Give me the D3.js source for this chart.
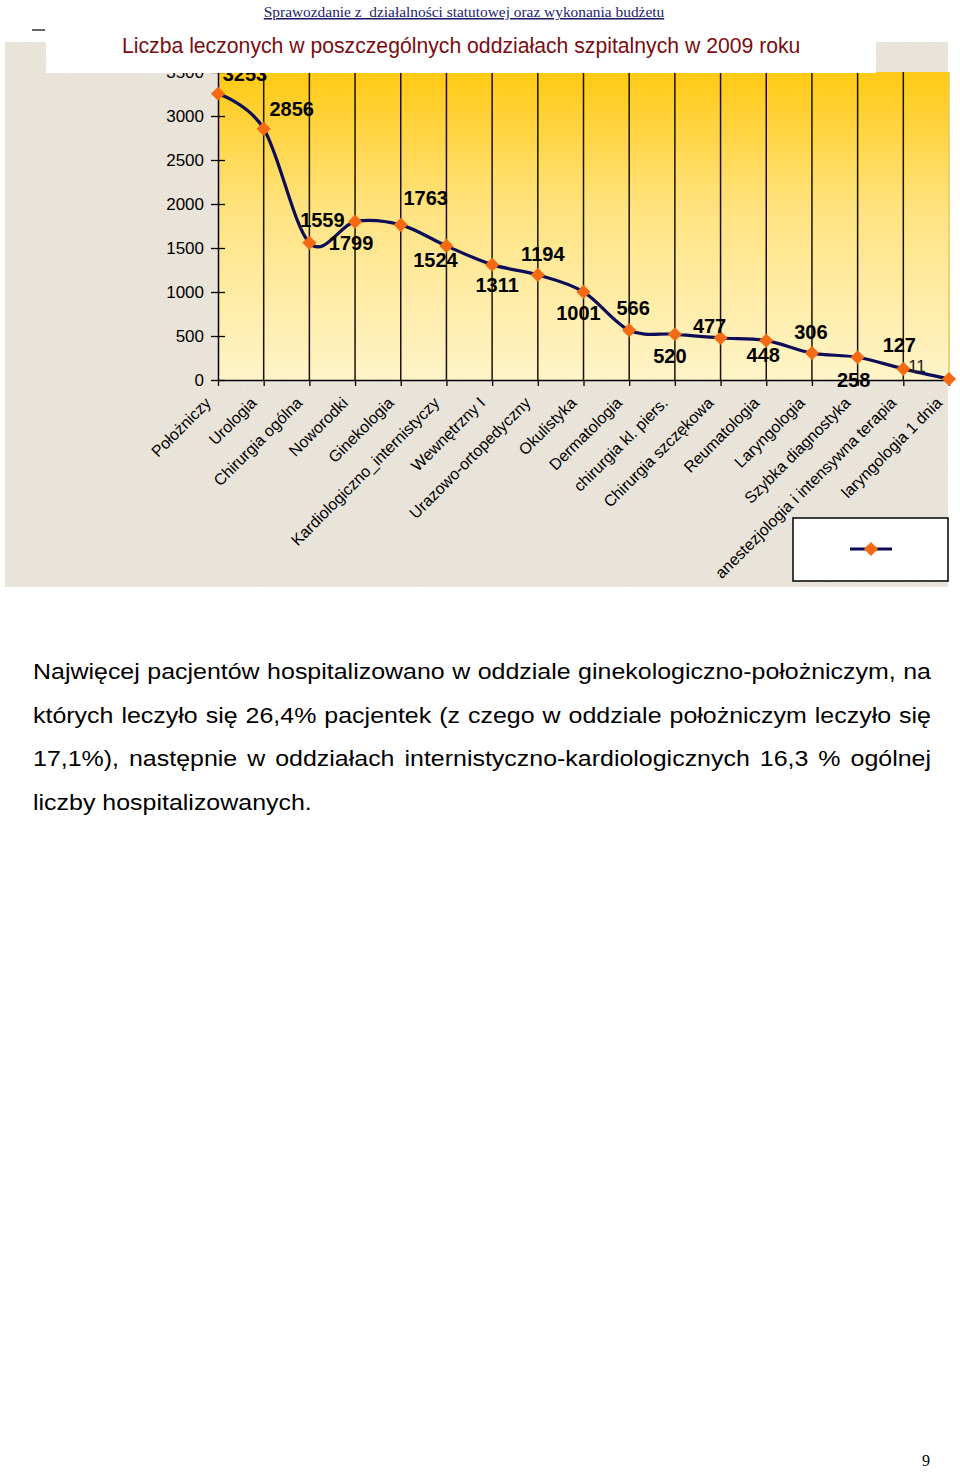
<!DOCTYPE html>
<html>
<head>
<meta charset="utf-8">
<script src="https://cdn.jsdelivr.net/npm/d3@7"></script>
<style>
  html, body { margin: 0; padding: 0; background: #fff; }
  svg { display: block; }
</style>
</head>
<body>
<div id="page"></div>
<script>

/* chart data */
var categories = ["Położniczy", "Urologia", "Chirurgia ogólna", "Noworodki", "Ginekologia",
    "Kardiologiczno_internistyczy", "Wewnętrzny I", "Urazowo-ortopedyczny", "Okulistyka",
    "Dermatologia", "chirurgia kl. piers.", "Chirurgia szczękowa", "Reumatologia",
    "Laryngologia", "Szybka diagnostyka", "anestezjologia i intensywna terapia", "laryngologia 1 dnia"];
var patients = [3253, 2856, 1559, 1799, 1763, 1524, 1311, 1194, 1001, 566, 520, 477, 448, 306, 258, 127, 11];
var yTicks = [0, 500, 1000, 1500, 2000, 2500, 3000, 3500];

/* where each value label sits relative to its marker (as in the original) */
var labelOffsets = [[27,-20],[28,-20],[13,-23],[-4,21],[25,-27],[-11,14],[5,20],[5,-21],[-5,21],
    [4,-22],[-5,22],[-11,-12],[-3,14],[-1,-21],[-4,23],[-4,-24],[-32,-13]];

var headerText = "Sprawozdanie z  działalności statutowej oraz wykonania budżetu";
var titleText = "Liczba leczonych w poszczególnych oddziałach szpitalnych w 2009 roku";
var paragraph = [
    "Najwięcej pacjentów hospitalizowano w oddziale ginekologiczno-położniczym, na",
    "których leczyło się 26,4% pacjentek (z czego w oddziale położniczym leczyło się",
    "17,1%), następnie w oddziałach internistyczno-kardiologicznych 16,3 % ogólnej",
    "liczby hospitalizowanych."
];

var W = 960, H = 1472;
var sans = "'Liberation Sans', Arial, sans-serif";
var serif = "'Liberation Serif', 'Times New Roman', serif";

var svg = d3.select("#page").append("svg")
    .attr("width", W)
    .attr("height", H);

var defs = svg.append("defs");

// stone-like background texture
var f = defs.append("filter").attr("id", "stone")
    .attr("x", 0).attr("y", 0).attr("width", 1).attr("height", 1);
f.append("feTurbulence").attr("type", "fractalNoise")
    .attr("baseFrequency", 0.7).attr("numOctaves", 3).attr("seed", 7);
f.append("feColorMatrix").attr("type", "matrix")
    .attr("values", "0.33 0.33 0.33 0 0  0.33 0.33 0.33 0 0  0.33 0.33 0.33 0 0  0 0 0 0 0.13");

var grad = defs.append("linearGradient").attr("id", "plotbg")
    .attr("x1", 0).attr("y1", 0).attr("x2", 0).attr("y2", 1);
grad.append("stop").attr("offset", "0%").attr("stop-color", "#ffc914");
grad.append("stop").attr("offset", "45%").attr("stop-color", "#ffe381");
grad.append("stop").attr("offset", "100%").attr("stop-color", "#fff4c9");

svg.append("rect").attr("x", 5).attr("y", 42).attr("width", 943).attr("height", 545)
    .attr("fill", "#f0eadf");
svg.append("rect").attr("x", 5).attr("y", 42).attr("width", 943).attr("height", 545)
    .attr("fill", "#fff").attr("filter", "url(#stone)");

/* scales */
var x = d3.scalePoint().domain(categories).range([218, 949]);
var y = d3.scaleLinear().domain([0, 3500]).range([380, 72]);

// plot area
svg.append("rect")
    .attr("x", x.range()[0]).attr("y", y(3500))
    .attr("width", x.range()[1] - x.range()[0]).attr("height", y(0) - y(3500))
    .attr("fill", "url(#plotbg)");
svg.append("line")
    .attr("x1", x.range()[1]).attr("x2", x.range()[1])
    .attr("y1", y(3500)).attr("y2", y(0))
    .attr("stroke", "#e8c45a").attr("stroke-width", 1.5);

// vertical grid lines at every category
svg.append("g").selectAll("line")
    .data(categories.slice(1, -1))
    .enter().append("line")
    .attr("x1", function(d) { return x(d); })
    .attr("x2", function(d) { return x(d); })
    .attr("y1", y(3500)).attr("y2", y(0))
    .attr("stroke", "#1a1208").attr("stroke-width", 1.5);

// y axis
var yAxis = svg.append("g").attr("transform", "translate(" + x.range()[0] + ",0)")
    .call(d3.axisLeft(y).tickValues(yTicks).tickFormat(d3.format("d"))
        .tickSizeInner(7).tickSizeOuter(0).tickPadding(7));
yAxis.select(".domain").attr("stroke", "#000").attr("stroke-width", 1.5);
yAxis.selectAll(".tick line").attr("x2", 7).attr("x1", -7).attr("stroke", "#000").attr("stroke-width", 1.3);
yAxis.selectAll(".tick text").attr("font-family", sans).attr("font-size", 17).attr("fill", "#000");

// x axis
var xAxis = svg.append("g").attr("transform", "translate(0," + y(0) + ")")
    .call(d3.axisBottom(x).tickSizeInner(6).tickSizeOuter(0).tickFormat(""));
xAxis.select(".domain").attr("stroke", "#000").attr("stroke-width", 1.5);
xAxis.selectAll(".tick line").attr("stroke", "#000").attr("stroke-width", 1.3);

svg.append("g").selectAll("text")
    .data(categories)
    .enter().append("text")
    .attr("transform", function(d) { return "translate(" + (x(d) - 10) + "," + (y(0) + 20) + ") rotate(-45)"; })
    .attr("text-anchor", "end")
    .attr("dy", "0.35em")
    .attr("font-family", sans)
    .attr("font-size", 16)
    .attr("fill", "#000")
    .text(function(d) { return d; });

/* the series */
var line = d3.line()
    .x(function(d, i) { return x(categories[i]); })
    .y(function(d) { return y(d); })
    .curve(d3.curveCardinal.tension(0));

svg.append("path")
    .datum(patients)
    .attr("d", line)
    .attr("fill", "none")
    .attr("stroke", "#0c0c58")
    .attr("stroke-width", 3.2);

var diamond = d3.symbol().type(d3.symbolSquare).size(100);
svg.append("g").selectAll("path")
    .data(patients)
    .enter().append("path")
    .attr("d", diamond)
    .attr("transform", function(d, i) { return "translate(" + x(categories[i]) + "," + y(d) + ") rotate(45)"; })
    .attr("fill", "#f46a12");

svg.append("g").selectAll("text")
    .data(patients)
    .enter().append("text")
    .attr("x", function(d, i) { return x(categories[i]) + labelOffsets[i][0]; })
    .attr("y", function(d, i) { return y(d) + labelOffsets[i][1]; })
    .attr("text-anchor", "middle")
    .attr("dy", "0.36em")
    .attr("font-family", sans)
    .attr("font-size", function(d) { return d < 100 ? 17 : 20; })
    .attr("font-weight", function(d) { return d < 100 ? "normal" : "bold"; })
    .attr("fill", function(d) { return d < 100 ? "#222" : "#000"; })
    .text(function(d) { return d; });

// legend
svg.append("rect").attr("x", 793).attr("y", 518).attr("width", 155).attr("height", 63)
    .attr("fill", "#fff").attr("stroke", "#000").attr("stroke-width", 1.5);
svg.append("line").attr("x1", 850).attr("x2", 892).attr("y1", 549).attr("y2", 549)
    .attr("stroke", "#0c0c58").attr("stroke-width", 3.2);
svg.append("path").attr("d", diamond)
    .attr("transform", "translate(871,549) rotate(45)")
    .attr("fill", "#f46a12");

/* title box over the chart top */
svg.append("rect").attr("x", 46).attr("y", 0).attr("width", 830).attr("height", 73)
    .attr("fill", "#fff");
svg.append("line").attr("x1", 32).attr("x2", 45).attr("y1", 30).attr("y2", 30)
    .attr("stroke", "#111").attr("stroke-width", 1.3);

svg.append("text")
    .attr("x", 464).attr("y", 17)
    .attr("text-anchor", "middle")
    .attr("font-family", serif)
    .attr("font-size", 15.4)
    .attr("fill", "#1c1c6a")
    .attr("text-decoration", "underline")
    .style("white-space", "pre")
    .text(headerText);

svg.append("text")
    .attr("x", 122).attr("y", 53)
    .attr("font-family", sans)
    .attr("font-size", 21.2)
    .attr("fill", "#7a0c10")
    .text(titleText);

/* paragraph, justified (the source face is a little wider than Liberation Sans) */
var left = 33, right = 931, stretch = 1.11;
paragraph.forEach(function(s, i) {
    var t = svg.append("text")
        .attr("transform", "translate(" + left + "," + (679 + i * 43.7) + ") scale(" + stretch + ",1)")
        .attr("font-family", sans)
        .attr("font-size", 22.5)
        .attr("fill", "#000")
        .text(s);
    if (i < paragraph.length - 1) {
        var gaps = s.split(" ").length - 1;
        var extra = ((right - left) / stretch - t.node().getComputedTextLength()) / gaps;
        t.attr("word-spacing", extra);
    }
});

svg.append("text")
    .attr("x", 926).attr("y", 1466)
    .attr("text-anchor", "middle")
    .attr("font-family", serif)
    .attr("font-size", 16)
    .attr("fill", "#000")
    .text("9");

</script>
</body>
</html>
